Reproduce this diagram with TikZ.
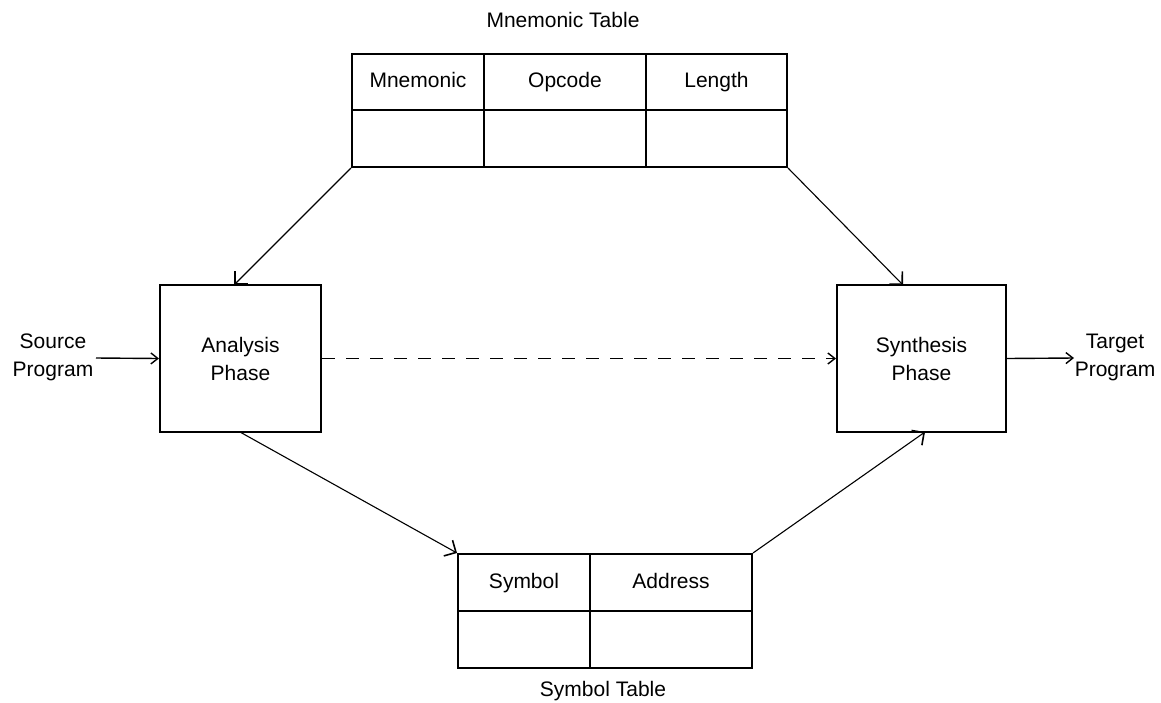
\documentclass[tikz,border=0pt]{standalone}
\usepackage{fontspec}
\setmainfont{Liberation Sans}
\usetikzlibrary{arrows.meta}
\begin{document}
\begin{tikzpicture}[x=1pt,y=-1pt,
  every node/.style={font=\fontsize{21}{28}\selectfont, inner sep=0pt, align=center},
  cell/.style={draw, line width=2pt, anchor=north west, text height=15pt, text depth=4pt},
  phasebox/.style={draw, line width=2pt, minimum width=#1, minimum height=147pt},
  flow/.style={line width=1.1pt, -{Straight Barb[length=9pt,width=18pt,line width=1.6pt]}},
  io/.style={line width=1.4pt, -{Straight Barb[length=7pt,width=11pt]}},
  link/.style={line width=1.4pt, dash pattern=on 13pt off 11pt, -{Straight Barb[length=7pt,width=11pt]}},
  label/.style={}]
\useasboundingbox (0,0) rectangle (1161,702);

% Mnemonic table
\node[label] (mtitle) at (563,20) {Mnemonic Table};
\node[cell, minimum width=132pt, minimum height=56pt] (m11) at (351,53) {Mnemonic};
\node[cell, minimum width=162pt, minimum height=56pt] (m12) at (483,53) {Opcode};
\node[cell, minimum width=141pt, minimum height=56pt] (m13) at (645,53) {Length};
\node[cell, minimum width=132pt, minimum height=57pt] (m21) at (351,109) {};
\node[cell, minimum width=162pt, minimum height=57pt] (m22) at (483,109) {};
\node[cell, minimum width=141pt, minimum height=57pt] (m23) at (645,109) {};

% Phases
\node[phasebox=161pt] (an) at (240.5,358.5) {Analysis\\Phase};
\node[phasebox=169pt] (sy) at (921.5,358.5) {Synthesis\\Phase};

% Symbol table
\node[cell, minimum width=132pt, minimum height=57pt] (s11) at (457,553) {Symbol};
\node[cell, minimum width=162pt, minimum height=57pt] (s12) at (589,553) {Address};
\node[cell, minimum width=132pt, minimum height=57pt] (s21) at (457,610) {};
\node[cell, minimum width=162pt, minimum height=57pt] (s22) at (589,610) {};
\node[label] (stitle) at (603,691) {Symbol Table};

% Program ends
\node[label] (src) at (53,357) {Source\\Program};
\node[label] (tgt) at (1115,357) {Target\\Program};

% Connection points on the box edges
\coordinate (anTop) at (234,285);
\coordinate (anBot) at (240,432);
\coordinate (syTop) at (903,285);
\coordinate (syBot) at (925,432);
\coordinate (srcEnd) at (96,358);
\coordinate (tgtEnd) at (1074,358);

% Connectors
\draw[flow] (m21.south west) -- (anTop);
\draw[flow] (m23.south east) -- (syTop);
\draw[flow] (anBot) -- (s11.north west);
\draw[flow] (s12.north east) -- (syBot);
\draw[io] (srcEnd) -- (an.west);
\draw[io] (sy.east) -- (tgtEnd);
\draw[link] (an.east) -- (sy.west);
\end{tikzpicture}
\end{document}
